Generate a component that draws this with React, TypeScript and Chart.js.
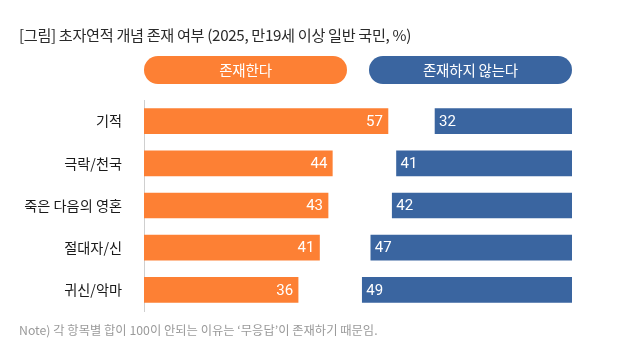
import React, { useEffect, useRef } from "react";
import { Chart, registerables } from "chart.js";

Chart.register(...registerables);

const titleText = "[그림] 초자연적 개념 존재 여부 (2025, 만19세 이상 일반 국민, %)";
const noteText = "Note) 각 항목별 합이 100이 안되는 이유는 ‘무응답’이 존재하기 때문임.";
const categories = ["기적", "극락/천국", "죽은 다음의 영혼", "절대자/신", "귀신/악마"];
const seriesNames = ["존재한다", "존재하지 않는다"];
const existsValues = [57, 44, 43, 41, 36];
const notExistsValues = [32, 41, 42, 47, 49];
const scaleMax = 100;

const ORANGE = "#FD8034";
const BLUE = "#3A65A0";
const KFONT = "'Noto Sans CJK KR', 'Noto Sans', sans-serif";

const valueLabelPlugin = {
  id: "valueLabels",
  afterDatasetsDraw(chart: any) {
    const ctx = chart.ctx;
    ctx.save();
    ctx.font = "15px Roboto, sans-serif";
    ctx.fillStyle = "#ffffff";
    ctx.textBaseline = "middle";
    chart.data.datasets.forEach((ds: any, di: number) => {
      const meta = chart.getDatasetMeta(di);
      meta.data.forEach((el: any, i: number) => {
        const left = Math.min(el.x, el.base);
        const right = Math.max(el.x, el.base);
        const v = di === 0 ? existsValues[i] : notExistsValues[i];
        if (di === 0) {
          ctx.textAlign = "right";
          ctx.fillText(String(v), right - 5, el.y + 1);
        } else {
          ctx.textAlign = "left";
          ctx.fillText(String(v), left + 4, el.y + 1);
        }
      });
    });
    ctx.restore();
  },
};

function ChartCanvas() {
  const ref = useRef<HTMLCanvasElement | null>(null);
  useEffect(() => {
    if (!ref.current) return;
    const chart = new Chart(ref.current, {
      type: "bar",
      data: {
        labels: categories,
        datasets: [
          {
            label: seriesNames[0],
            data: existsValues,
            backgroundColor: ORANGE,
            barThickness: 25,
          },
          {
            label: seriesNames[1],
            data: notExistsValues.map((v) => [scaleMax - v, scaleMax]) as any,
            backgroundColor: BLUE,
            barThickness: 25,
          },
        ],
      },
      options: {
        indexAxis: "y",
        responsive: false,
        animation: false,
        layout: { padding: { top: 100, right: 71, bottom: 41, left: 0 } },
        plugins: {
          legend: { display: false },
          title: { display: false },
          tooltip: { enabled: false },
        },
        scales: {
          x: {
            display: false,
            min: 0,
            max: scaleMax,
            stacked: false,
          },
          y: {
            stacked: true,
            grid: { display: false, drawTicks: false },
            border: { display: true, color: "#cfcfcf", width: 1 },
            ticks: {
              padding: 22,
              color: "#1a1a1a",
              font: { family: KFONT, size: 14.2 },
            },
            afterFit: (scale: any) => {
              scale.width = 144;
            },
          },
        },
      },
      plugins: [valueLabelPlugin],
    });
    return () => chart.destroy();
  }, []);
  return <canvas ref={ref} width={643} height={352} style={{ position: "absolute", left: 0, top: 0 }} />;
}

export default function App() {
  const pill = (bg: string): React.CSSProperties => ({
    position: "absolute",
    top: 56,
    height: 28,
    borderRadius: 14,
    background: bg,
    color: "#fff",
    fontFamily: KFONT,
    fontSize: 14.5,
    lineHeight: "28px",
    textAlign: "center",
    letterSpacing: "-0.2px",
  });
  return (
    <div style={{ position: "fixed", left: 0, top: 0, width: 643, height: 352, background: "#fff", overflow: "hidden" }}>
      <ChartCanvas />
      <div
        style={{
          position: "absolute",
          left: 19,
          top: 24,
          fontFamily: KFONT,
          fontSize: 15.2,
          color: "#2a2a2a",
          letterSpacing: "-0.35px",
          whiteSpace: "nowrap",
          lineHeight: "20px",
        }}
      >
        {titleText}
      </div>
      <div style={{ ...pill(ORANGE), left: 144, width: 203 }}>{seriesNames[0]}</div>
      <div style={{ ...pill(BLUE), left: 369, width: 203 }}>{seriesNames[1]}</div>
      <div
        style={{
          position: "absolute",
          left: 19,
          top: 321,
          fontFamily: KFONT,
          fontSize: 12.3,
          color: "#9a9a9a",
          letterSpacing: "0px",
          whiteSpace: "nowrap",
          lineHeight: "18px",
        }}
      >
        {noteText}
      </div>
    </div>
  );
}
